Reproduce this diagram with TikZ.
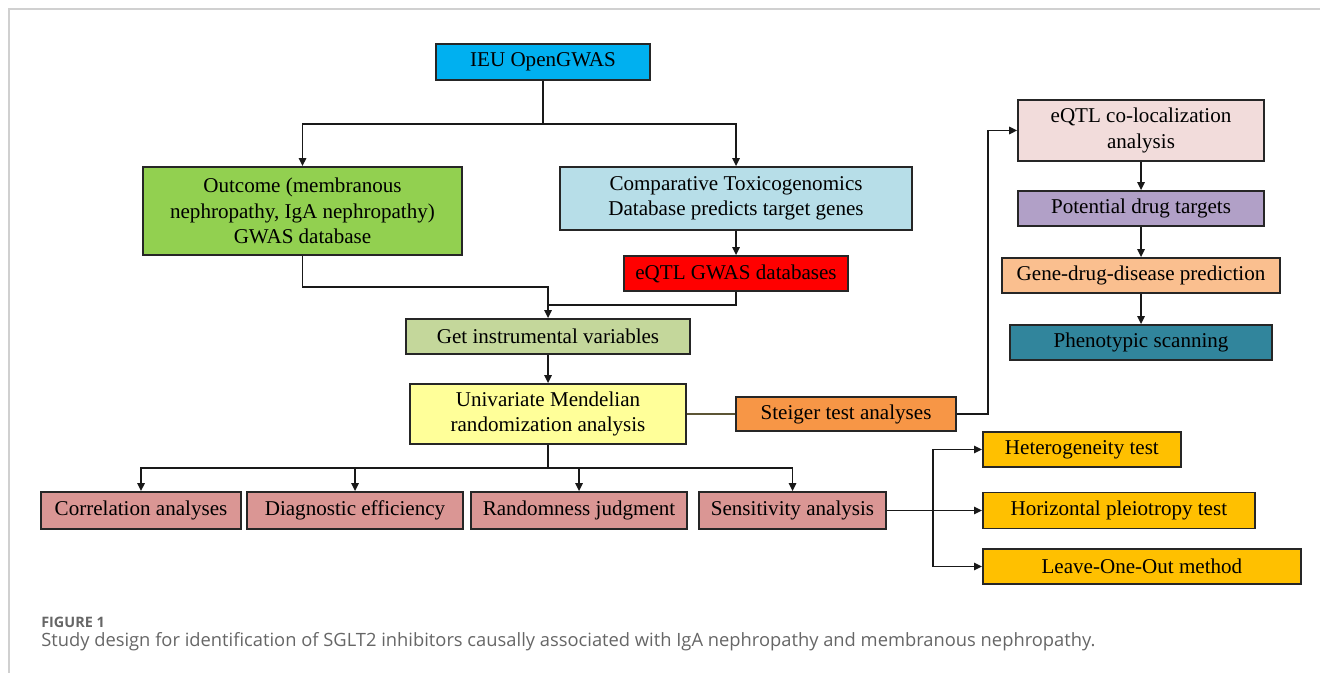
\documentclass[tikz,border=0pt]{standalone}
\usepackage{fontspec}
\setmainfont{Liberation Serif}
\newfontfamily\capfont{Open Sans}
\usetikzlibrary{arrows.meta}
\definecolor{cblue}{HTML}{00B0F0}
\definecolor{cgreen}{HTML}{92D050}
\definecolor{cltblue}{HTML}{B7DEE8}
\definecolor{cred}{HTML}{FF0000}
\definecolor{civ}{HTML}{C4D79B}
\definecolor{cyel}{HTML}{FFFF99}
\definecolor{corange}{HTML}{F79646}
\definecolor{cpink}{HTML}{F2DCDB}
\definecolor{cpurple}{HTML}{B1A0C7}
\definecolor{cpeach}{HTML}{FABF8F}
\definecolor{cteal}{HTML}{31859C}
\definecolor{crose}{HTML}{DA9694}
\definecolor{cgold}{HTML}{FFC000}
\definecolor{colive}{HTML}{5C5535}
\definecolor{cframe}{HTML}{D0D0D0}
\definecolor{ccap}{HTML}{666666}
\tikzset{
  bx/.style={draw=black!85, line width=1.3pt, inner sep=0pt, align=center,
    font=\fontsize{15.8}{19}\selectfont, text=black},
  sz/.style 2 args={minimum width=#1*0.75pt, minimum height=#2*0.75pt},
  conn/.style={line width=1.3pt, draw=black!90},
  arr/.style={conn, -{Triangle[length=6pt,width=5.5pt]}},
}
\begin{document}
\begin{tikzpicture}[x=0.75pt,y=-0.75pt]
\useasboundingbox (0,0) rectangle (1320,673);
\draw[cframe, line width=1pt] (9,673) -- (9,9) -- (1320,9);

% nodes
\node[bx, sz={214}{36}, fill=cblue] (ieu) at (543,62) {IEU OpenGWAS};
\node[bx, sz={319}{88}, fill=cgreen] (outcome) at (302.5,211) {Outcome (membranous\\nephropathy, IgA nephropathy)\\GWAS database};
\node[bx, sz={352}{63}, fill=cltblue] (ctd) at (736,198.5) {Comparative Toxicogenomics\\Database predicts target genes};
\node[bx, sz={224}{35}, fill=cred] (red) at (736,273.5) {eQTL GWAS databases};
\node[bx, sz={284}{35}, fill=civ] (giv) at (548,336.5) {Get instrumental variables};
\node[bx, sz={276}{60}, fill=cyel] (uni) at (548,414) {Univariate Mendelian\\randomization analysis};
\node[bx, sz={220}{34}, fill=corange] (stei) at (846,414) {Steiger test analyses};
\node[bx, sz={246}{61}, fill=cpink] (coloc) at (1141,130.5) {eQTL co-localization\\analysis};
\node[bx, sz={246}{35}, fill=cpurple] (pdt) at (1141,208.5) {Potential drug targets};
\node[bx, sz={278}{35}, fill=cpeach] (gdd) at (1141,275.5) {Gene-drug-disease prediction};
\node[bx, sz={262}{35}, fill=cteal] (phen) at (1141,342.5) {Phenotypic scanning};
\node[bx, sz={200}{37}, fill=crose] (corr) at (141,510.5) {Correlation analyses};
\node[bx, sz={216}{37}, fill=crose] (diag) at (355,510.5) {Diagnostic efficiency};
\node[bx, sz={216}{37}, fill=crose] (rand) at (579,510.5) {Randomness judgment};
\node[bx, sz={187}{37}, fill=crose] (sens) at (792.5,510.5) {Sensitivity analysis};
\node[bx, sz={198}{35}, fill=cgold, anchor=west] (het) at (982,449.5) {Heterogeneity test};
\node[bx, sz={272}{36}, fill=cgold, anchor=west] (hp) at (982,510.5) {Horizontal pleiotropy test};
\node[bx, sz={318}{35}, fill=cgold, anchor=west] (loo) at (982,566.5) {Leave-One-Out method};

% junctions
\coordinate (j1) at (543,124);
\coordinate (j2) at (548,287);
\coordinate (j3) at (548,305);
\coordinate (j4) at (548,468);
\coordinate (j5) at (988,414);
\coordinate (j6) at (933,510.5);

% connectors
\draw[conn] (ieu.south) -- (j1);
\draw[arr] (j1) -| (outcome.north);
\draw[arr] (j1) -| (ctd.north);
\draw[arr] (ctd.south) -- (red.north);
\draw[arr] (outcome.south) |- (j2) -- (giv.north);
\draw[conn] (red.south) |- (j3);
\draw[arr] (giv.south) -- (uni.north);
\draw[conn] (uni.south) -- (j4);
\draw[arr] (j4) -| (corr.north);
\draw[arr] (j4) -| (diag.north);
\draw[arr] (j4) -| (rand.north);
\draw[arr] (j4) -| (sens.north);
\draw[line width=2pt, colive] (uni.east) -- (stei.west);
\draw[arr] (stei.east) -- (j5) |- (coloc.west);
\draw[arr] (coloc.south) -- (pdt.north);
\draw[arr] (pdt.south) -- (gdd.north);
\draw[arr] (gdd.south) -- (phen.north);
\draw[arr] (sens.east) -- (hp.west);
\draw[arr] (j6) |- (het.west);
\draw[arr] (j6) |- (loo.west);

% caption
\node[anchor=base west, inner sep=0pt, text=ccap, font=\capfont\fontsize{10.8}{12}\selectfont\bfseries] (fig) at (41,627) {FIGURE 1};
\node[anchor=base west, inner sep=0pt, text=ccap, font=\capfont\fontsize{13.75}{15}\selectfont] (cap) at (41,646) {Study design for identification of SGLT2 inhibitors causally associated with IgA nephropathy and membranous nephropathy.};
\end{tikzpicture}
\end{document}
